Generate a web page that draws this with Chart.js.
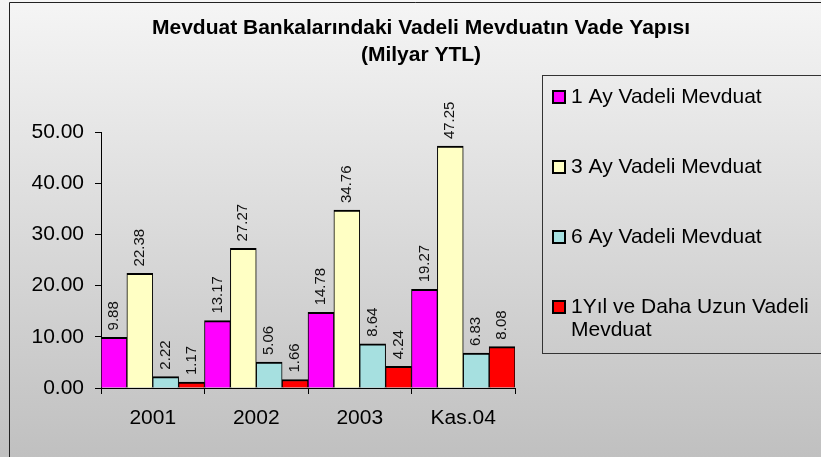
<!DOCTYPE html>
<html>
<head>
<meta charset="utf-8">
<script src="https://cdn.jsdelivr.net/npm/chart.js@4"></script>
<style>
  body { margin: 0; }
  .chart__box { width: 821px; height: 457px; position: relative; }
</style>
</head>
<body>
<div class="chart__box"><canvas id="chart"></canvas></div>
<script>
// Данные графика
const categories = ['2001', '2002', '2003', 'Kas.04'];
const seriesLabels = ['1 Ay Vadeli Mevduat', '3 Ay Vadeli Mevduat', '6 Ay Vadeli Mevduat', '1Yıl ve Daha Uzun Vadeli Mevduat'];
const ay1 = [9.88, 13.17, 14.78, 19.27];
const ay3 = [22.38, 27.27, 34.76, 47.25];
const ay6 = [2.22, 5.06, 8.64, 6.83];
const yil1 = [1.17, 1.66, 4.24, 8.08];
const titleLines = ['Mevduat Bankalarındaki Vadeli Mevduatın Vade Yapısı', '(Milyar YTL)'];

const seriesColors = ['#FF00FF', '#FFFFC4', '#A6E0E0', '#FF0000'];
const FONT = "'Liberation Sans', Arial, sans-serif";

Chart.defaults.font.family = FONT;
Chart.defaults.color = '#000';

// Фон, рамка и заголовок
const frame = {
  id: 'frame',
  beforeDraw(chart) {
    const { ctx, width, height } = chart;
    ctx.save();
    const grad = ctx.createLinearGradient(0, 0, 0, height);
    grad.addColorStop(0, '#f5f5f5');
    grad.addColorStop(1, '#c0c0c0');
    ctx.fillStyle = grad;
    ctx.fillRect(0, 0, width, height);
    ctx.strokeStyle = '#222';
    ctx.lineWidth = 1;
    ctx.beginPath();
    ctx.moveTo(9.5, height + 2);
    ctx.lineTo(9.5, 2.5);
    ctx.lineTo(width + 2, 2.5);
    ctx.stroke();

    ctx.fillStyle = '#000';
    ctx.font = `bold 21px ${FONT}`;
    ctx.textAlign = 'center';
    ctx.textBaseline = 'middle';
    titleLines.forEach((line, i) => ctx.fillText(line, 421, 28 + i * 27));
    ctx.restore();
  },
};

// Подписи значений над столбцами
const valueLabels = {
  id: 'valueLabels',
  afterDatasetsDraw(chart) {
    const { ctx } = chart;
    ctx.save();
    ctx.font = `15px ${FONT}`;
    ctx.fillStyle = '#111';
    ctx.textAlign = 'left';
    ctx.textBaseline = 'middle';
    chart.data.datasets.forEach((ds, di) => {
      chart.getDatasetMeta(di).data.forEach((bar, i) => {
        ctx.save();
        ctx.translate(bar.x, bar.y - 7);
        ctx.rotate(-Math.PI / 2);
        ctx.fillText(ds.data[i].toFixed(2), 0, 0);
        ctx.restore();
      });
    });
    ctx.restore();
  },
};

// Легенда в рамке справа
const boxLegend = {
  id: 'boxLegend',
  afterDraw(chart) {
    const { ctx } = chart;
    ctx.save();
    ctx.strokeStyle = '#333';
    ctx.lineWidth = 1;
    ctx.strokeRect(542.5, 75.5, 300, 278);
    ctx.font = `21px ${FONT}`;
    ctx.textAlign = 'left';
    ctx.textBaseline = 'middle';
    chart.data.datasets.forEach((ds, i) => {
      const y = 97 + i * 70;
      ctx.fillStyle = ds.backgroundColor;
      ctx.fillRect(553, y - 6, 12, 12);
      ctx.strokeStyle = '#000';
      ctx.lineWidth = 2;
      ctx.strokeRect(553, y - 6, 12, 12);
      // перенос длинных подписей
      const lines = [];
      let cur = '';
      ds.label.split(' ').forEach((w) => {
        const test = cur ? `${cur} ${w}` : w;
        if (cur && ctx.measureText(test).width > 246) {
          lines.push(cur);
          cur = w;
        } else {
          cur = test;
        }
      });
      lines.push(cur);
      ctx.fillStyle = '#000';
      lines.forEach((line, li) => ctx.fillText(line, 571, y + li * 23));
    });
    ctx.restore();
  },
};

const allSeries = [ay1, ay3, ay6, yil1];

const chart = new Chart(document.getElementById('chart'), {
  type: 'bar',
  data: {
    labels: categories,
    datasets: allSeries.map((values, i) => ({
      label: seriesLabels[i],
      data: values,
      backgroundColor: seriesColors[i],
      borderColor: '#000',
      borderWidth: { top: 2, left: 1, right: 1, bottom: 0 },
      categoryPercentage: 1,
      barPercentage: 1,
    })),
  },
  options: {
    responsive: true,
    maintainAspectRatio: false,
    animation: false,
    layout: {
      padding: { top: 132, left: 0, right: 306, bottom: 0 },
    },
    scales: {
      y: {
        min: 0,
        max: 50,
        afterFit: (scale) => { scale.width = 101; },
        ticks: {
          stepSize: 10,
          padding: 11,
          font: { size: 21 },
          callback: (v) => v.toFixed(2),
        },
        border: { display: true, color: '#000', width: 1 },
        grid: { drawOnChartArea: false, drawTicks: true, tickLength: 6, color: '#000' },
      },
      x: {
        afterFit: (scale) => { scale.height = 69; },
        ticks: { padding: 12, font: { size: 21 } },
        border: { display: true, color: '#000', width: 1 },
        grid: { drawOnChartArea: false, drawTicks: true, tickLength: 6, color: '#000', offset: true },
      },
    },
    plugins: {
      legend: { display: false },
      title: { display: false },
      tooltip: { enabled: false },
    },
  },
  plugins: [frame, valueLabels, boxLegend],
});
</script>
</body>
</html>
